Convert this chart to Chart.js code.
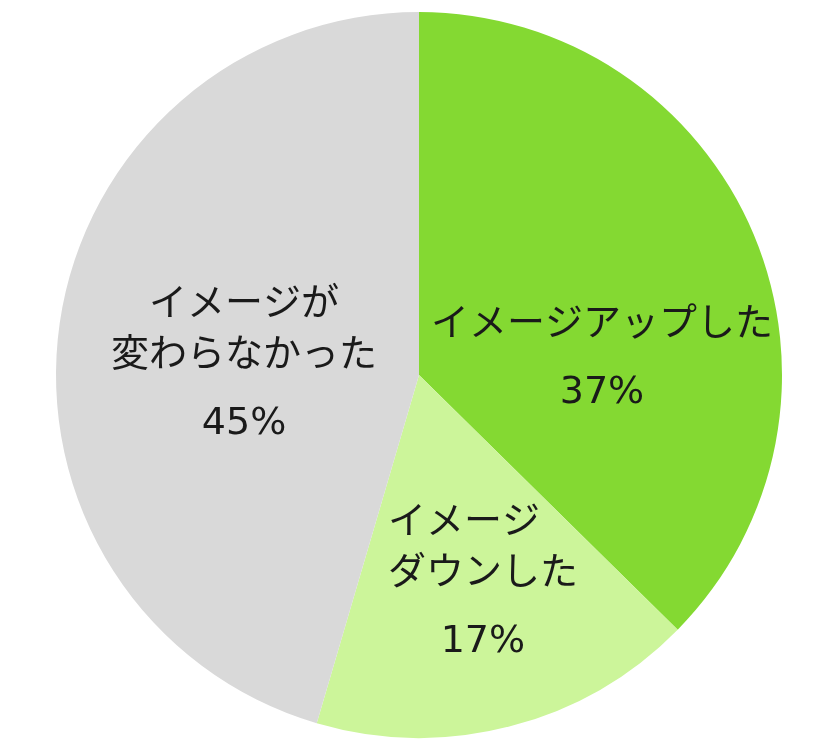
<!DOCTYPE html>
<html>
<head>
<meta charset="utf-8">
<script src="https://cdn.jsdelivr.net/npm/chart.js@4/dist/chart.umd.min.js"></script>
<style>
  html, body { margin: 0; padding: 0; background: #fff; }
  #wrap { width: 840px; height: 756px; position: relative; }
</style>
</head>
<body>
<div id="wrap"><canvas id="pie_chart"></canvas></div>
<script>
// data
var categories = ['イメージアップした', 'イメージダウンした', 'イメージが変わらなかった'];
var percents = [37, 17, 45];
var labelLines = [['イメージアップした'], ['イメージ\u3000', 'ダウンした'], ['イメージが', '変わらなかった']];
var sliceColors = ['#84d932', '#ccf59a', '#d9d9d9'];

// where each label block starts, in units of the pie radius from its centre
var labelAnchor = [[0.504, -0.138], [0.176, 0.408], [-0.482, -0.193]];

var pieLabels = {
	id: 'pieLabels',
	afterDatasetsDraw: function (chart) {
		var ctx = chart.ctx;
		var meta = chart.getDatasetMeta(0);
		ctx.save();
		ctx.fillStyle = '#1a1a1a';
		ctx.textAlign = 'center';
		ctx.textBaseline = 'middle';
		ctx.font = '38px "DejaVu Sans", "Noto Sans CJK JP", sans-serif';
		for (var i = 0; i < meta.data.length; i++) {
			var arc = meta.data[i];
			var r = arc.outerRadius;
			var x = arc.x + labelAnchor[i][0] * r;
			var y = arc.y + labelAnchor[i][1] * r;
			var lines = labelLines[i];
			for (var j = 0; j < lines.length; j++) {
				ctx.fillText(lines[j], x, y + j * 51);
			}
			ctx.fillText(percents[i] + '%', x, y + (lines.length - 1) * 51 + 68);
		}
		ctx.restore();
	}
};

new Chart(document.getElementById('pie_chart').getContext('2d'), {
	type: 'pie',
	data: {
		labels: categories,
		datasets: [{
			data: percents,
			backgroundColor: sliceColors,
			borderWidth: 0
		}]
	},
	options: {
		responsive: true,
		maintainAspectRatio: false,
		animation: false,
		layout: { padding: { top: 12, bottom: 18, left: 0, right: 2 } },
		plugins: {
			legend: { display: false },
			tooltip: { enabled: false }
		}
	},
	plugins: [pieLabels]
});
</script>
</body>
</html>
